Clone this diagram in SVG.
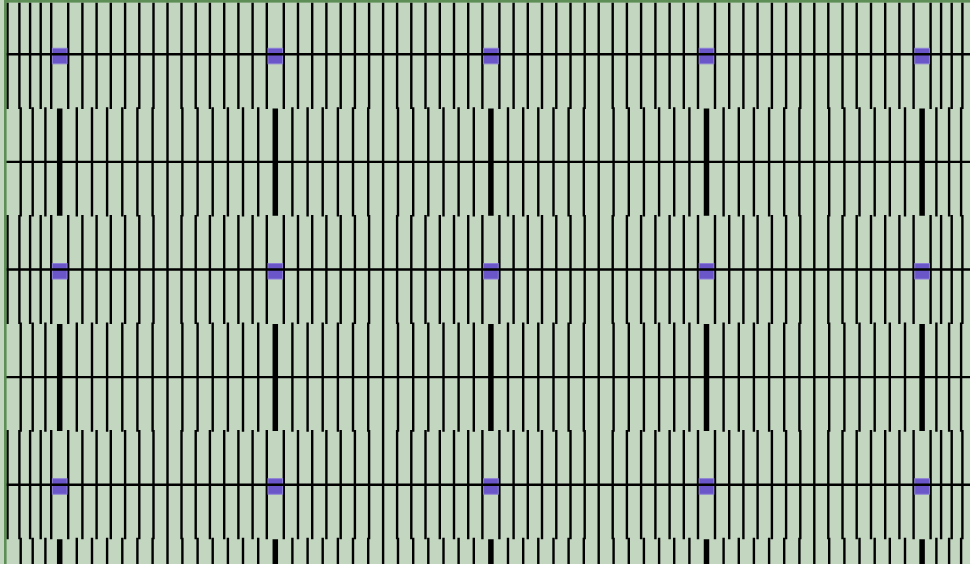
<svg xmlns="http://www.w3.org/2000/svg" xmlns:xlink="http://www.w3.org/1999/xlink" width="970" height="564" viewBox="0 0 970 564">
<style>
.w{fill:none;stroke:#000;stroke-width:2.4;stroke-linecap:butt}
.t{fill:none;stroke:#000;stroke-width:5.5;stroke-linecap:butt}
.h{stroke:#000;stroke-width:2.4}
.box{fill:#6a55c9;stroke:#8c7ed8;stroke-width:1}
.bd{fill:#5d8e55}
</style>
<defs>
<g id="R" class="w">
<path d="M8.5 2.5V109M8.5 214.9V324.1M8.5 430.1V539.3"/>
<path d="M22.7 2.5V109M17.1 107.3V216.5M22.7 214.9V324.1M17.1 322.5V431.7M22.7 430.1V539.3M17.1 537.7V564"/>
<path d="M36.9 2.5V109M32.3 107.3V216.5M36.9 214.9V324.1M32.3 322.5V431.7M36.9 430.1V539.3M32.3 537.7V564"/>
<path d="M51.1 2.5V109M47.4 107.3V216.5M51.1 214.9V324.1M47.4 322.5V431.7M51.1 430.1V539.3M47.4 537.7V564"/>
<path d="M65.4 2.5V109M62.6 107.3V216.5M65.4 214.9V324.1M62.6 322.5V431.7M65.4 430.1V539.3M62.6 537.7V564"/>
<path d="M79.6 2.5V109M77.7 107.3V216.5M79.6 214.9V324.1M77.7 322.5V431.7M79.6 430.1V539.3M77.7 537.7V564"/>
<path d="M93.8 2.5V109M92.9 107.3V216.5M93.8 214.9V324.1M92.9 322.5V431.7M93.8 430.1V539.3M92.9 537.7V564"/>
</g>
<g id="E" class="w">
<path d="M8.5 2.5V109M8.5 214.9V324.1M8.5 430.1V539.3"/>
<path d="M19 2.5V109M14.3 107.3V216.5M19 214.9V324.1M14.3 322.5V431.7M19 430.1V539.3M14.3 537.7V564"/>
<path d="M29.6 2.5V109M27 107.3V216.5M29.6 214.9V324.1M27 322.5V431.7M29.6 430.1V539.3M27 537.7V564"/>
<path d="M40.3 2.5V109M39 107.3V216.5M40.3 214.9V324.1M39 322.5V431.7M40.3 430.1V539.3M39 537.7V564"/>
</g>
<path id="T" class="t" d="M0 108.6V215.7M0 324.1V430.9M0 539.3V564"/>
<rect id="B" class="box" x="-7.3" y="-6" width="14.6" height="15.5"/>
</defs>
<rect x="0" y="0" width="970" height="564" fill="#c3d6c0"/>
<g id="connectors">
<use xlink:href="#E" transform="translate(59.7,0) scale(-1,1)"/>
<use xlink:href="#R" transform="translate(59.7,0)"/>
<use xlink:href="#R" transform="translate(275.3,0) scale(-1,1)"/>
<use xlink:href="#R" transform="translate(275.3,0)"/>
<use xlink:href="#R" transform="translate(490.9,0) scale(-1,1)"/>
<use xlink:href="#R" transform="translate(490.9,0)"/>
<use xlink:href="#R" transform="translate(706.5,0) scale(-1,1)"/>
<use xlink:href="#R" transform="translate(706.5,0)"/>
<use xlink:href="#R" transform="translate(922.1,0) scale(-1,1)"/>
<use xlink:href="#E" transform="translate(922.1,0)"/>
<use xlink:href="#T" x="59.7"/><use xlink:href="#T" x="275.3"/><use xlink:href="#T" x="490.9"/><use xlink:href="#T" x="706.5"/><use xlink:href="#T" x="922.1"/>
<path class="w" d="M7.5 2.5V109M7.5 214.9V324.1M7.5 430.1V539.3"/>
<path class="w" d="M167.5 2.5V564M383.1 2.5V564M598.7 2.5V564M814.3 2.5V564"/>
</g>
<g id="pads">
<use xlink:href="#B" x="59.7" y="54.3"/><use xlink:href="#B" x="275.3" y="54.3"/><use xlink:href="#B" x="490.9" y="54.3"/><use xlink:href="#B" x="706.5" y="54.3"/><use xlink:href="#B" x="922.1" y="54.3"/>
<use xlink:href="#B" x="59.7" y="269.5"/><use xlink:href="#B" x="275.3" y="269.5"/><use xlink:href="#B" x="490.9" y="269.5"/><use xlink:href="#B" x="706.5" y="269.5"/><use xlink:href="#B" x="922.1" y="269.5"/>
<use xlink:href="#B" x="59.7" y="484.7"/><use xlink:href="#B" x="275.3" y="484.7"/><use xlink:href="#B" x="490.9" y="484.7"/><use xlink:href="#B" x="706.5" y="484.7"/><use xlink:href="#B" x="922.1" y="484.7"/>
</g>
<g id="rails" class="h">
<path d="M5 54.3H970M5 161.9H970M5 269.5H970M5 377.1H970M5 484.7H970"/>
</g>
<g id="border">
<rect class="bd" x="4" y="0" width="966" height="2.6"/>
<rect class="bd" x="4" y="0" width="2.6" height="564"/>
</g>
</svg>
